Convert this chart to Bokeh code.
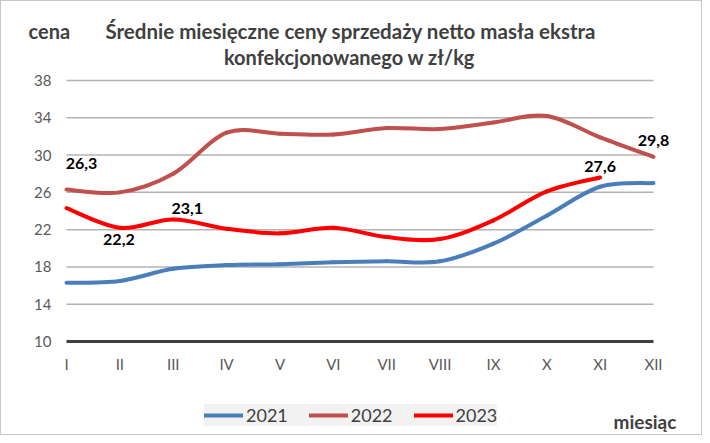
from bokeh.plotting import figure
from bokeh.models import Range1d, Legend, LegendItem, ColumnDataSource
from bokeh.core.properties import value
from bokeh.embed import file_html
from bokeh.resources import INLINE

# ---------------- data ----------------
months = ["I", "II", "III", "IV", "V", "VI", "VII", "VIII", "IX", "X", "XI", "XII"]
y2021 = [16.3, 16.5, 17.8, 18.2, 18.3, 18.5, 18.6, 18.6, 20.5, 23.5, 26.6, 27.0]
y2022 = [26.3, 26.0, 28.0, 32.4, 32.3, 32.2, 32.9, 32.8, 33.5, 34.2, 31.9, 29.8]
y2023 = [24.3, 22.2, 23.1, 22.1, 21.6, 22.2, 21.2, 21.0, 23.0, 26.1, 27.6]
y_ticks = [10, 14, 18, 22, 26, 30, 34, 38]
series_names = ["2021", "2022", "2023"]
title_line1 = "Średnie miesięczne ceny sprzedaży netto masła ekstra"
title_line2 = "konfekcjonowanego  w zł/kg"
y_title = "cena"
x_title = "miesiąc"

# labelled points: (series, month index) and pixel offsets of each label
lab_series = [y2022, y2023, y2023, y2023, y2022]
lab_idx = [0, 1, 2, 10, 11]
lab_dx = [15, -1, 14, 0, 0]
lab_dy = [-26, 12, -11, -11, -16]

# ---------------- layout (pixels) ----------------
FONT = "Lato"
W, H = 702, 435
PX_I, PX_XII = 65, 652       # x pixel of months I and XII
PY_TOP, PY_BOT = 79, 340     # y pixel of 38 and 10
ux = (PX_XII - PX_I) / 11.0
uy = (PY_BOT - PY_TOP) / float(y_ticks[-1] - y_ticks[0])


def X(px):
    return 1 + (px - PX_I) / ux


def Y(py):
    return y_ticks[0] + (PY_BOT - py) / uy


p = figure(width=W, height=H, output_backend="svg", toolbar_location=None,
           x_range=Range1d(X(0), X(W)), y_range=Range1d(Y(H), Y(0)),
           x_axis_type=None, y_axis_type=None, min_border=0,
           background_fill_color="white", border_fill_color="white",
           outline_line_color=None, styles={"border": "1px solid #c6c6c6"})
p.xgrid.visible = False
p.ygrid.visible = False

xs = list(range(1, 13))

# gridlines and the base axis line (category extent I..XII)
p.segment(x0=xs[0], x1=xs[-1], y0=y_ticks[1:], y1=y_ticks[1:],
          line_color="#b3b3b3", line_width=1.5)
p.segment(x0=[xs[0]], x1=[xs[-1]], y0=y_ticks[:1], y1=y_ticks[:1],
          line_color="#404040", line_width=3)

# tick labels
p.text(x=[xs[0]] * len(y_ticks), y=y_ticks, text=[str(t) for t in y_ticks],
       x_offset=-15, text_font=value(FONT), text_font_size="15px",
       text_color="#595959", text_align="right", text_baseline="middle")
p.text(x=xs, y=[y_ticks[0]] * len(xs), text=months, y_offset=22,
       text_font=value(FONT), text_font_size="15px", text_color="#595959",
       text_align="center", text_baseline="middle")


def smooth(vals):
    n = len(vals)
    x = [i + 1 for i in range(n)]
    d = dict(x0=[], y0=[], x1=[], y1=[], cx0=[], cy0=[], cx1=[], cy1=[])
    for i in range(n - 1):
        xm, ym = (x[i - 1], vals[i - 1]) if i > 0 else (x[i], vals[i])
        xp, yp = (x[i + 2], vals[i + 2]) if i + 2 < n else (x[i + 1], vals[i + 1])
        d["x0"].append(x[i]); d["y0"].append(vals[i])
        d["x1"].append(x[i + 1]); d["y1"].append(vals[i + 1])
        d["cx0"].append(x[i] + (x[i + 1] - xm) / 6)
        d["cy0"].append(vals[i] + (vals[i + 1] - ym) / 6)
        d["cx1"].append(x[i + 1] - (xp - x[i]) / 6)
        d["cy1"].append(vals[i + 1] - (yp - vals[i]) / 6)
    return ColumnDataSource(d)


colors = ["#4a7ebb", "#c0504d", "#ff0000"]
items = []
for name, vals, col in zip(series_names, [y2021, y2022, y2023], colors):
    r = p.bezier(x0="x0", y0="y0", x1="x1", y1="y1", cx0="cx0", cy0="cy0",
                 cx1="cx1", cy1="cy1", source=smooth(vals), line_color=col,
                 line_width=4, line_cap="round")
    items.append(LegendItem(label=name, renderers=[r]))

# data labels
lsrc = ColumnDataSource(dict(
    x=[i + 1 for i in lab_idx],
    y=[s[i] for s, i in zip(lab_series, lab_idx)],
    t=[f"{s[i]:.1f}".replace(".", ",") for s, i in zip(lab_series, lab_idx)],
    dx=lab_dx, dy=lab_dy))
p.text(x="x", y="y", text="t", x_offset="dx", y_offset="dy", source=lsrc,
       text_font=value(FONT), text_font_size="16px", text_font_style="bold",
       text_color="#000000", text_align="center", text_baseline="middle")

# titles
p.text(x=[X(349.5)], y=[Y(29)], text=[title_line1],
       text_font=value(FONT), text_font_size="20.5px", text_font_style="bold",
       text_color="#404040", text_align="center", text_baseline="middle")
p.text(x=[X(350.5)], y=[Y(55)], text=[title_line2],
       text_font=value(FONT), text_font_size="20px", text_font_style="bold",
       text_color="#404040", text_align="center", text_baseline="middle")
p.text(x=[X(27)], y=[Y(29)], text=[y_title], text_font=value(FONT),
       text_font_size="20px", text_font_style="bold", text_color="#404040",
       text_align="left", text_baseline="middle")
p.text(x=[X(612)], y=[Y(420)], text=[x_title], text_font=value(FONT),
       text_font_size="19px", text_font_style="bold", text_color="#404040",
       text_align="left", text_baseline="middle")

legend = Legend(items=items, orientation="horizontal", location=(203, H - 433 + 8),
                background_fill_color="#f2f2f2", background_fill_alpha=1,
                border_line_color=None, glyph_width=39, glyph_height=20,
                label_text_font=FONT, label_text_font_size="18px",
                label_text_color="#404040", spacing=21, padding=12,
                label_standoff=3, margin=0)
p.add_layout(legend, "center")

open("out.html", "w").write(file_html(p, INLINE))
